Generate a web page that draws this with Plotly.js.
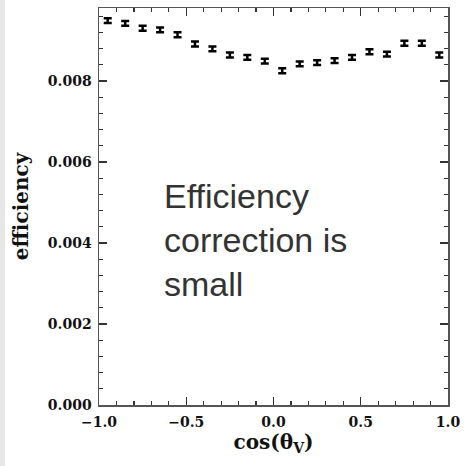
<!DOCTYPE html>
<html><head><meta charset="utf-8">
<script src="https://cdn.plot.ly/plotly-3.0.1.min.js"></script>
<style>
html,body{margin:0;padding:0;background:#fff;}
#strip{position:absolute;left:0;top:0;width:5px;height:466px;background:#e6e6e6;}
#plot{width:464px;height:466px;}
</style></head>
<body><div id="strip"></div><div id="plot"></div>
<script>
const cosTheta = [-0.95,-0.85,-0.75,-0.65,-0.55,-0.45,-0.35,-0.25,-0.15,-0.05,0.05,0.15,0.25,0.35,0.45,0.55,0.65,0.75,0.85,0.95];
const efficiency = [0.00949,0.00942,0.00930,0.00926,0.00914,0.00891,0.00879,0.00864,0.00858,0.00849,0.00825,0.00842,0.00845,0.00850,0.00858,0.00872,0.00866,0.00893,0.00893,0.00864];
const errors = [0.00006,0.00006,0.00006,0.00006,0.00006,0.00006,0.00006,0.00006,0.00006,0.00006,0.00006,0.00006,0.00006,0.00006,0.00006,0.00006,0.00006,0.00006,0.00006,0.00006];
const xTicks = [-1.0,-0.5,0.0,0.5,1.0];
const xTickText = ['\u22121.0','\u22120.5','0.0','0.5','1.0'];
const yTicks = [0,0.002,0.004,0.006,0.008];
const yTickText = ['0.000','0.002','0.004','0.006','0.008'];

const tickFont = {family:'"DejaVu Serif", serif', size:14, color:'#111', weight:'bold'};
const trace = {
  x: cosTheta, y: efficiency, type:'scatter', mode:'markers',
  marker:{size:1, color:'#000'},
  error_y:{type:'data', array:errors, visible:true, color:'#000', thickness:2.5, width:4},
  showlegend:false, hoverinfo:'none'
};
const layout = {
  width:464, height:466,
  margin:{l:99, r:16, t:8, b:61},
  paper_bgcolor:'rgba(0,0,0,0)', plot_bgcolor:'#fff',
  xaxis:{range:[-1,1], tickvals:xTicks, ticktext:xTickText, ticks:'inside', ticklen:8, tickwidth:1.2, tickcolor:'#333',
    showline:true, linecolor:'#555', linewidth:1.5, mirror:'ticks', showgrid:false, zeroline:false,
    minor:{dtick:0.1, tick0:0, ticks:'inside', ticklen:4, tickcolor:'#333', tickwidth:1.2, showgrid:false},
    tickfont:tickFont, ticklabelstandoff:4,
    title:{text:'<b>cos(θ<sub>V</sub>)</b>', font:{family:'"DejaVu Serif", serif', size:20, color:'#111'}, standoff:4}},
  yaxis:{range:[0,0.0098], tickvals:yTicks, ticktext:yTickText, ticks:'inside', ticklen:8, tickwidth:1.2, tickcolor:'#333',
    showline:true, linecolor:'#555', linewidth:1.5, mirror:'ticks', showgrid:false, zeroline:false,
    minor:{dtick:0.0004, tick0:0, ticks:'inside', ticklen:4, tickcolor:'#333', tickwidth:1.2, showgrid:false},
    tickfont:tickFont, ticklabelstandoff:3,
    title:{text:'<b>efficiency</b>', font:{family:'"DejaVu Serif", serif', size:20, color:'#111'}, standoff:14}},
  annotations:[{xref:'paper', yref:'paper', x:0.18, y:0.58, xanchor:'left', yanchor:'top', align:'left', showarrow:false,
    text:'Efficiency<br>correction is<br>small', font:{family:'"Liberation Sans", Arial, sans-serif', size:34, color:'#333'}}]
};
Plotly.newPlot('plot',[trace],layout,{staticPlot:true, displayModeBar:false});
</script></body></html>
